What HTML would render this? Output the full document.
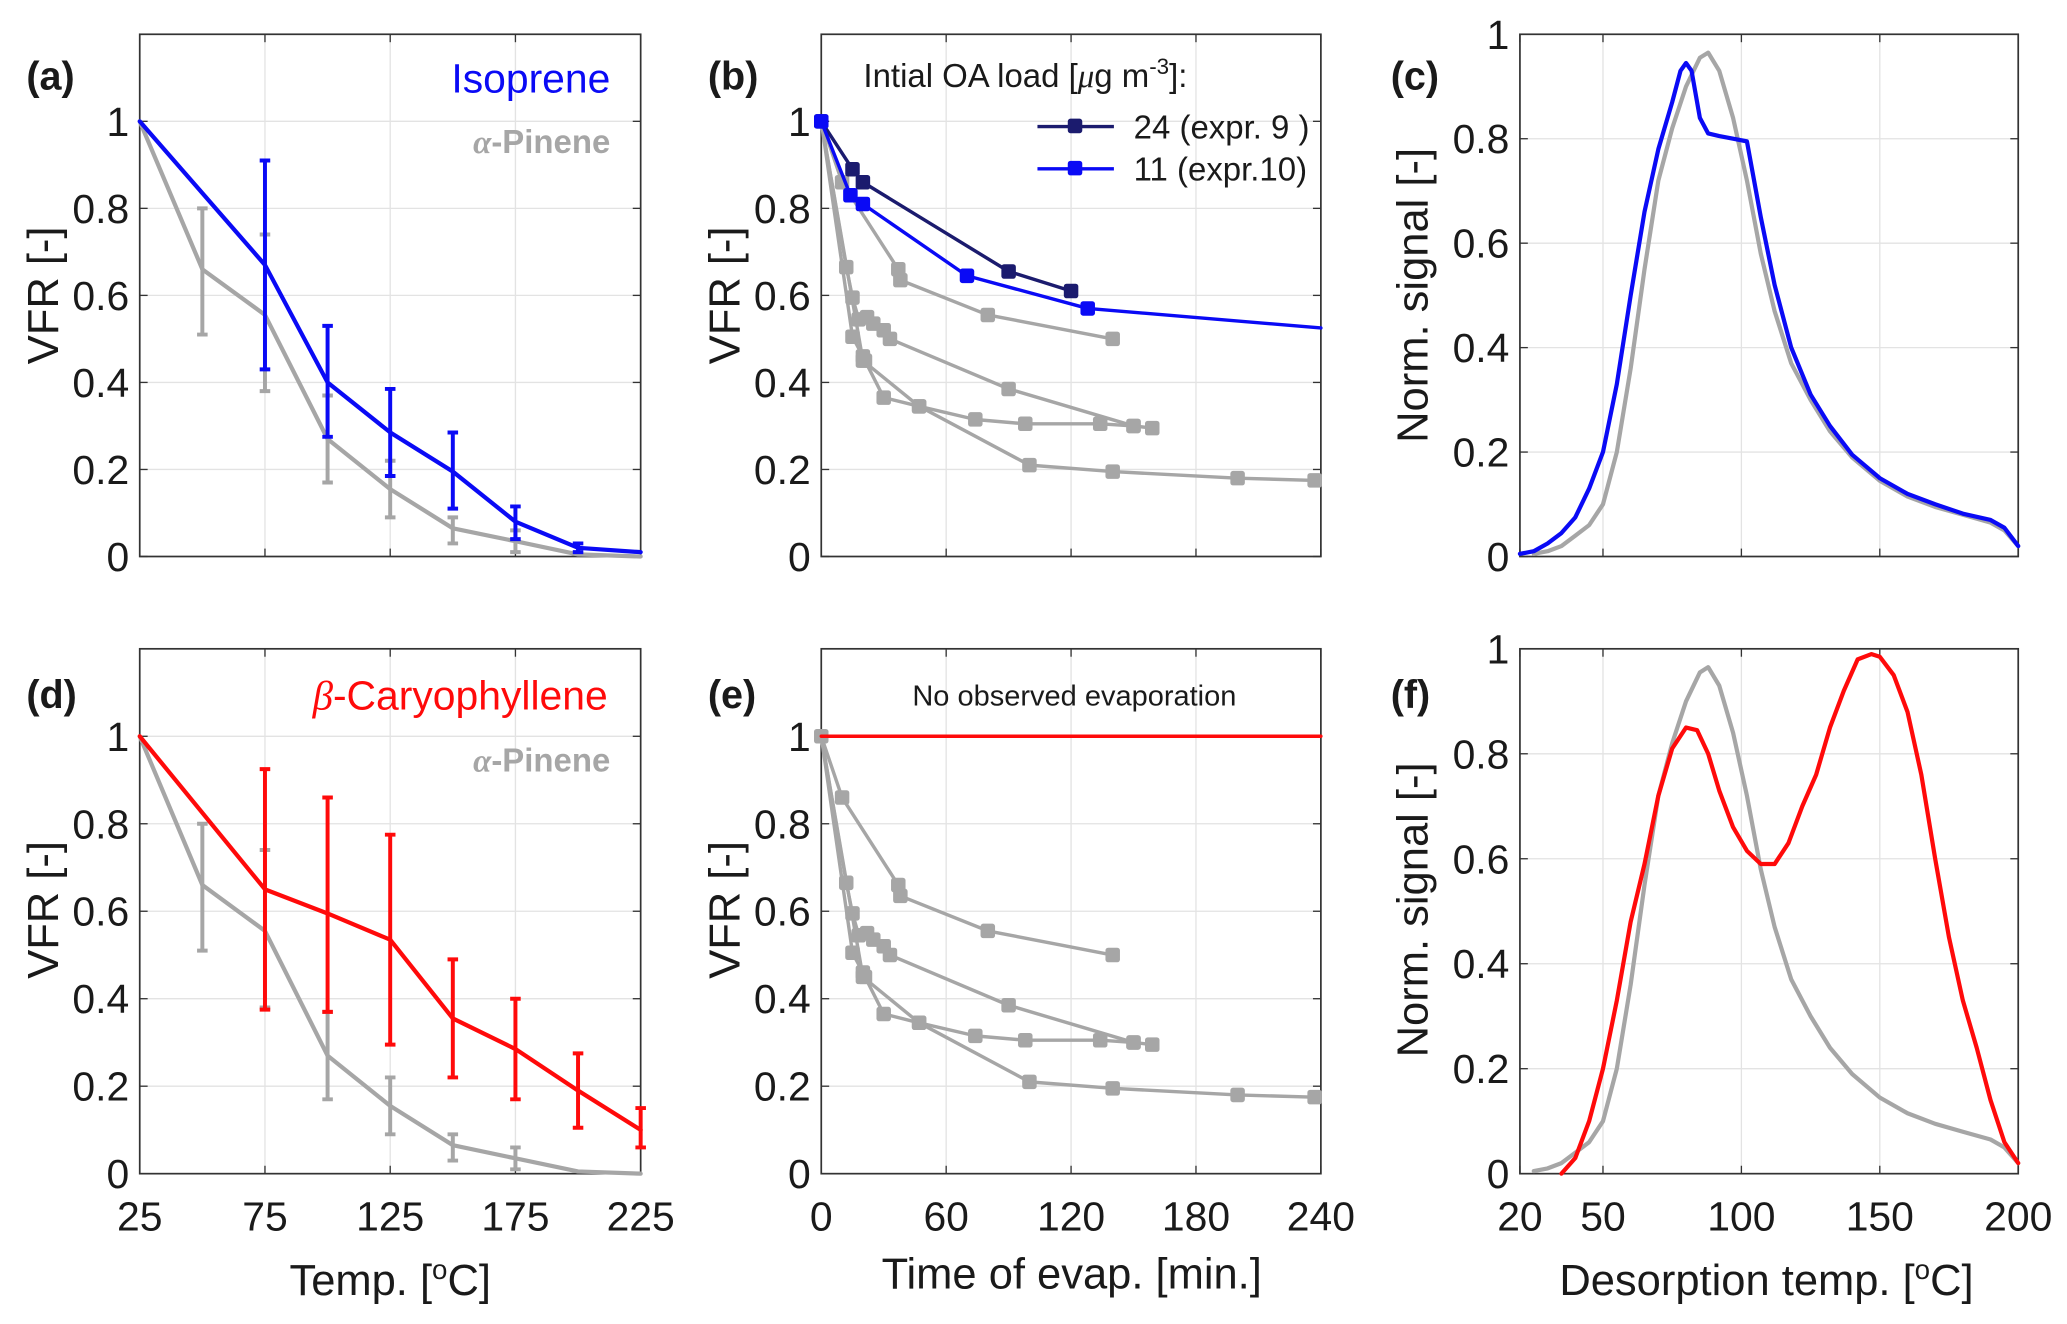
<!DOCTYPE html>
<html><head><meta charset="utf-8">
<style>
html,body{margin:0;padding:0;background:#fff;}
svg{display:block;}
text{font-family:"Liberation Sans",Arial,sans-serif;fill:#1a1a1a;}
</style></head>
<body>
<svg id="fig" width="2067" height="1324" viewBox="0 0 1568 1004" preserveAspectRatio="none" xmlns="http://www.w3.org/2000/svg"></svg>
<script>
// ---- Panel (a)/(d) data ----
const isoT = [25,75,100,125,150,175,200,225];
const isoV = [1,0.67,0.40,0.285,0.195,0.08,0.02,0.01];
const isoLo = [1,0.43,0.275,0.185,0.11,0.04,0.01,0.01];
const isoHi = [1,0.91,0.53,0.385,0.285,0.115,0.03,0.01];
const pinT = [25,50,75,100,125,150,175,200,225];
const pinV = [1,0.66,0.555,0.27,0.155,0.065,0.035,0.005,0.0];
const pinLo = [1,0.51,0.38,0.17,0.09,0.03,0.01,0.005,0];
const pinHi = [1,0.80,0.74,0.37,0.22,0.09,0.06,0.005,0];
const caryT = [25,75,100,125,150,175,200,225];
const caryV = [1,0.65,0.595,0.535,0.355,0.285,0.19,0.10];
const caryLo = [1,0.375,0.37,0.295,0.22,0.17,0.105,0.06];
const caryHi = [1,0.925,0.86,0.775,0.49,0.40,0.275,0.15];
// ---- Panel (b)/(e) data ----
const g1T = [0,10,37,38,80,140];
const g1V = [1,0.86,0.66,0.635,0.555,0.5];
const g2T = [0,12,15,18,22,25,30,33,90,150];
const g2V = [1,0.665,0.595,0.545,0.55,0.535,0.52,0.50,0.385,0.30];
const g3T = [0,15,20,21,30,47,100,140,200,237];
const g3V = [1,0.505,0.46,0.45,0.365,0.345,0.21,0.195,0.18,0.175];
const g4T = [0,20,47,74,98,134,150,159];
const g4V = [1,0.45,0.345,0.315,0.305,0.305,0.30,0.295];
const e9T = [0,15,20,90,120];
const e9V = [1,0.89,0.86,0.655,0.61];
const e10T = [0,14,20,70,128];
const e10V = [1,0.83,0.81,0.645,0.57];
const e10TailT = [128,240];
const e10TailV = [0.57,0.525];
const caryEvT = [0,240];
const caryEvV = [1,1];
// ---- Panel (c)/(f) thermograms ----
const thPinT = [25,30,35,40,45,50,55,60,65,70,75,80,85,88,92,97,102,107,112,118,125,132,140,150,160,170,180,190,195,200];
const thPinV = [0.005,0.01,0.02,0.04,0.06,0.1,0.2,0.36,0.55,0.72,0.82,0.9,0.955,0.965,0.93,0.84,0.72,0.58,0.47,0.37,0.3,0.24,0.19,0.145,0.115,0.095,0.08,0.065,0.05,0.02];
const thIsoT = [20,25,30,35,40,45,50,55,60,65,70,75,78,80,82,85,88,92,97,102,107,112,118,125,132,140,150,160,170,180,190,195,200];
const thIsoV = [0.005,0.01,0.025,0.045,0.075,0.13,0.2,0.33,0.5,0.66,0.78,0.87,0.93,0.945,0.93,0.84,0.81,0.805,0.80,0.795,0.65,0.52,0.4,0.31,0.25,0.195,0.15,0.12,0.1,0.082,0.07,0.055,0.02];
const thCarT = [35,40,45,50,55,60,65,70,75,80,84,88,92,97,102,107,112,117,122,127,132,137,142,147,150,155,160,165,170,175,180,185,190,195,200];
const thCarV = [0,0.03,0.1,0.2,0.33,0.48,0.59,0.72,0.81,0.85,0.845,0.8,0.73,0.66,0.615,0.59,0.59,0.63,0.7,0.76,0.85,0.92,0.98,0.99,0.985,0.95,0.88,0.76,0.6,0.45,0.33,0.24,0.14,0.06,0.02];
// ---- ticks ----
const vfrTicks = [0,0.2,0.4,0.6,0.8,1];
const vfrTickLabels = ["0","0.2","0.4","0.6","0.8","1"];
const tempTicks = [25,75,125,175,225];
const timeTicks = [0,60,120,180,240];
const desTicks = [20,50,100,150,200];

const NS="http://www.w3.org/2000/svg";
const svg=document.getElementById('fig');
function mk(tag,attrs,parent){const e=document.createElementNS(NS,tag);for(const k in attrs)e.setAttribute(k,attrs[k]);(parent||svg).appendChild(e);return e;}
const GRAY="#a6a6a6",BLUE="#0a0af5",NAVY="#1b1b6e",RED="#ff0a0a";

function panel(name,x0,x1,y0,y1,xmin,xmax,ymin,ymax,gridX,xTicks,showXLabels){
  const g=mk('g',{});
  
  
  const sx=v=>x0+(v-xmin)/(xmax-xmin)*(x1-x0);
  const sy=v=>y1-(v-ymin)/(ymax-ymin)*(y1-y0);
  gridX.forEach(v=>{const l=mk('line',{x1:sx(v),x2:sx(v),y1:y0,y2:y1,stroke:'#e3e3e3','stroke-width':1},g);});
  vfrTicks.forEach((v,i)=>{
    const l=mk('line',{x1:x0,x2:x1,y1:sy(v),y2:sy(v),stroke:'#e3e3e3','stroke-width':1},g);
    
    mk('line',{x1:x0,x2:x0+6,y1:sy(v),y2:sy(v),stroke:'#333','stroke-width':1},g);
    mk('line',{x1:x1-6,x2:x1,y1:sy(v),y2:sy(v),stroke:'#333','stroke-width':1},g);
    const t=mk('text',{x:x0-8,y:sy(v)+11,'text-anchor':'end','font-size':31},g);t.textContent=vfrTickLabels[i];
    
  });
  xTicks.forEach(v=>{
    mk('line',{x1:sx(v),x2:sx(v),y1:y1,y2:y1-6,stroke:'#333','stroke-width':1},g);
    mk('line',{x1:sx(v),x2:sx(v),y1:y0,y2:y0+6,stroke:'#333','stroke-width':1},g);
    if(showXLabels){const t=mk('text',{x:sx(v),y:y1+43,'text-anchor':'middle','font-size':31},g);t.textContent=String(v);
      }
  });
  const b=mk('rect',{x:x0,y:y0,width:x1-x0,height:y1-y0,fill:'none',stroke:'#333','stroke-width':1.3},g);
  
  return {g,sx,sy};
}
function line(p,xs,ys,color,w,name){
  const d=xs.map((x,i)=>(i?'L':'M')+p.sx(x).toFixed(1)+' '+p.sy(ys[i]).toFixed(1)).join(' ');
  const e=mk('path',{d,fill:'none',stroke:color,'stroke-width':w,'stroke-linejoin':'round','stroke-linecap':'round'},p.g);
  
}
function errs(p,xs,lo,hi,color,name){
  xs.forEach((x,i)=>{if(hi[i]-lo[i]<0.005)return;
    const X=p.sx(x);
    const e=mk('path',{d:`M${X} ${p.sy(lo[i])}V${p.sy(hi[i])}M${X-4} ${p.sy(lo[i])}H${X+4}M${X-4} ${p.sy(hi[i])}H${X+4}`,stroke:color,'stroke-width':3,fill:'none'},p.g);
    });
}
function markers(p,xs,ys,color,name){
  xs.forEach((x,i)=>{const r=mk('rect',{x:p.sx(x)-5.5,y:p.sy(ys[i])-5.5,width:11,height:11,rx:2,fill:color},p.g);
    });
}
function text(str,x,y,size,attrs,name){const t=mk('text',Object.assign({x,y,'font-size':size},attrs||{}));t.innerHTML=str;
  return t;}

// Panel a
const pa=panel('panel-a',106,486,26,422,25,225,0,1.2,[75,125,175],tempTicks,false);
errs(pa,pinT,pinLo,pinHi,GRAY,'pinene-errorbar');
line(pa,pinT,pinV,GRAY,3.2,'pinene-line');
errs(pa,isoT,isoLo,isoHi,BLUE,'isoprene-errorbar');
line(pa,isoT,isoV,BLUE,3.2,'isoprene-line');
text('Isoprene',463,70,31,{'text-anchor':'end',style:'fill:'+BLUE},'isoprene-label');
text('<tspan font-family="Liberation Serif" font-style="italic">α</tspan>-Pinene',463,116,25,{'text-anchor':'end','font-weight':'bold',style:'fill:'+GRAY},'pinene-label');

// Panel d
const pd=panel('panel-d',106,486,492,890,25,225,0,1.2,[75,125,175],tempTicks,true);
errs(pd,pinT,pinLo,pinHi,GRAY,'pinene-errorbar');
line(pd,pinT,pinV,GRAY,3.2,'pinene-line');
errs(pd,caryT,caryLo,caryHi,RED,'caryophyllene-errorbar');
line(pd,caryT,caryV,RED,3.2,'caryophyllene-line');
text('<tspan font-family="Liberation Serif" font-style="italic">β</tspan>-Caryophyllene',461,538,31,{'text-anchor':'end',style:'fill:'+RED},'caryophyllene-label');
text('<tspan font-family="Liberation Serif" font-style="italic">α</tspan>-Pinene',463,585,25,{'text-anchor':'end','font-weight':'bold',style:'fill:'+GRAY},'pinene-label');

// Panel b
const pb=panel('panel-b',623,1002,26,422,0,240,0,1.2,[60,120,180],timeTicks,false);
[[g1T,g1V],[g2T,g2V],[g3T,g3V],[g4T,g4V]].forEach(s=>{line(pb,s[0],s[1],GRAY,2.6,'gray-series-line');markers(pb,s[0].slice(1),s[1].slice(1),GRAY,'gray-marker');});
line(pb,e10TailT,e10TailV,BLUE,2.6,'expr10-fit-line');
line(pb,e9T,e9V,NAVY,2.6,'expr9-line');markers(pb,e9T,e9V,NAVY,'expr9-marker');
line(pb,e10T,e10V,BLUE,2.6,'expr10-line');markers(pb,e10T,e10V,BLUE,'expr10-marker');
text('Intial OA load [<tspan font-family="Liberation Serif" font-style="italic">μ</tspan>g m<tspan dy="-10" font-size="17">-3</tspan><tspan dy="10">]:</tspan>',655,66,25,{},'legend-title');
mk('line',{x1:787,x2:845,y1:96,y2:96,stroke:NAVY,'stroke-width':2.6});
mk('rect',{x:810,y:90,width:11,height:11,rx:2,fill:NAVY});
text('24 (expr. 9 )',860,105,25,{},'legend-entry-expr9');
mk('line',{x1:787,x2:845,y1:128,y2:128,stroke:BLUE,'stroke-width':2.6});
mk('rect',{x:810,y:122,width:11,height:11,rx:2,fill:BLUE});
text('11 (expr.10)',860,137,25,{},'legend-entry-expr10');

// Panel e
const pe=panel('panel-e',623,1002,492,890,0,240,0,1.2,[60,120,180],timeTicks,true);
[[g1T,g1V],[g2T,g2V],[g3T,g3V],[g4T,g4V]].forEach(s=>{line(pe,s[0],s[1],GRAY,2.6,'gray-series-line');markers(pe,s[0].slice(1),s[1].slice(1),GRAY,'gray-marker');});
markers(pe,[0],[1],GRAY,'gray-marker');
line(pe,caryEvT,caryEvV,RED,2.6,'caryophyllene-line');
text('No observed evaporation',815,535,22,{'text-anchor':'middle'},'no-evaporation-note');

// Panel c
const pc=panel('panel-c',1153,1531,26,422,20,200,0,1,[50,100,150],desTicks,false);
line(pc,thPinT,thPinV,GRAY,3.2,'pinene-thermogram');
line(pc,thIsoT,thIsoV,BLUE,3.2,'isoprene-thermogram');
// Panel f
const pf=panel('panel-f',1153,1531,492,890,20,200,0,1,[50,100,150],desTicks,true);
line(pf,thPinT,thPinV,GRAY,3.2,'pinene-thermogram');
line(pf,thCarT,thCarV,RED,3.2,'caryophyllene-thermogram');

// Panel letters
[['(a)',20,68],['(b)',537,68],['(c)',1055,68],['(d)',20,537],['(e)',537,537],['(f)',1055,537]].forEach(l=>text(l[0],l[1],l[2],30,{'font-weight':'bold'},'panel-letter'));

// axis titles
text('VFR [-]',0,0,33,{transform:'translate(44,224) rotate(-90)','text-anchor':'middle'},'y-axis-title-a');
text('VFR [-]',0,0,33,{transform:'translate(561,224) rotate(-90)','text-anchor':'middle'},'y-axis-title-b');
text('VFR [-]',0,0,33,{transform:'translate(44,690) rotate(-90)','text-anchor':'middle'},'y-axis-title-d');
text('VFR [-]',0,0,33,{transform:'translate(561,690) rotate(-90)','text-anchor':'middle'},'y-axis-title-e');
text('Norm. signal [-]',0,0,33,{transform:'translate(1083,224) rotate(-90)','text-anchor':'middle'},'y-axis-title-c');
text('Norm. signal [-]',0,0,33,{transform:'translate(1083,690) rotate(-90)','text-anchor':'middle'},'y-axis-title-f');
text('Temp. [<tspan dy="-12" font-size="21">o</tspan><tspan dy="12">C]</tspan>',296,982,33,{'text-anchor':'middle'},'x-axis-title-temp');
text('Time of evap. [min.]',813,977,33,{'text-anchor':'middle'},'x-axis-title-time');
text('Desorption temp. [<tspan dy="-12" font-size="21">o</tspan><tspan dy="12">C]</tspan>',1340,982,33,{'text-anchor':'middle'},'x-axis-title-desorption');
</script>
</body></html>
